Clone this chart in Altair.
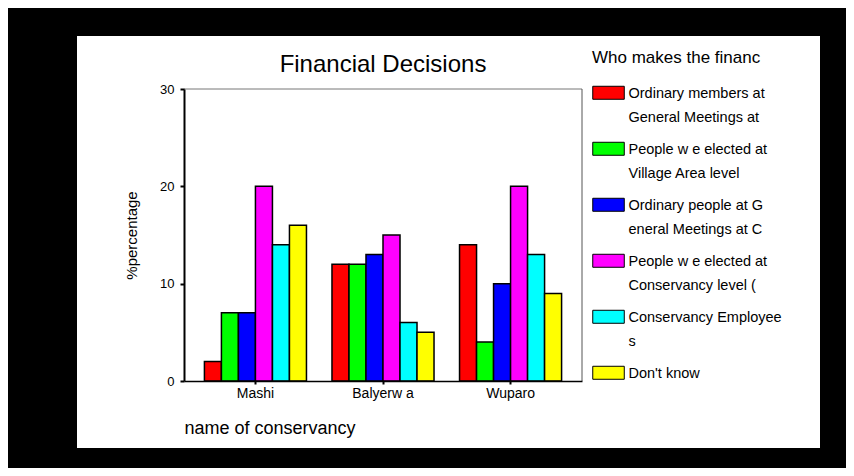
import altair as alt
import pandas as pd

conservancies = ["Mashi", "Balyerw a", "Wuparo"]
who = [
    "Ordinary members at\nGeneral Meetings at",
    "People w e elected at\n Village Area level",
    "Ordinary people at G\neneral Meetings at C",
    "People w e elected at\n Conservancy level (",
    "Conservancy Employee\ns",
    "Don't know",
]
colors = ["#ff0000", "#00ff00", "#0000ff", "#ff00ff", "#00ffff", "#ffff00"]
mashi = [2, 7, 7, 20, 14, 16]
balyerwa = [12, 12, 13, 15, 6, 5]
wuparo = [14, 4, 10, 20, 13, 9]

rows = []
for c, vals in zip(conservancies, [mashi, balyerwa, wuparo]):
    for w, v in zip(who, vals):
        rows.append({"conservancy": c, "who": w, "pct": v})
df = pd.DataFrame(rows)

FONT = "Liberation Sans"

panel = alt.Chart(alt.Data(values=[{"p": 1}])).mark_rect(color="white").encode(
    x=alt.value(-107), x2=alt.value(636), y=alt.value(-53), y2=alt.value(359)
)

bars = alt.Chart(df).mark_bar(stroke="black", strokeWidth=1.5, opacity=1).encode(
    x=alt.X(
        "conservancy:N",
        sort=conservancies,
        scale=alt.Scale(paddingInner=0.2, paddingOuter=0.16),
        axis=alt.Axis(
            title="name of conservancy",
            titleAnchor="start",
            titleAlign="left",
            titleFontSize=18,
            titlePadding=19,
            labelAngle=0,
            labelFontSize=14,
            labelPadding=2,
            tickSize=3,
            tickWidth=2,
            domainWidth=1.5,
            zindex=1,
        ),
    ),
    xOffset=alt.XOffset("who:N", sort=who, scale=alt.Scale(paddingInner=0, paddingOuter=0)),
    y=alt.Y(
        "pct:Q",
        scale=alt.Scale(domain=[0, 30], nice=False),
        axis=alt.Axis(
            title="%percentage",
            values=[0, 10, 20, 30],
            grid=False,
            titleFontSize=15,
            titlePadding=20,
            labelFontSize=13,
            labelPadding=6,
            tickSize=4,
            tickWidth=2,
            domainWidth=2,
            zindex=1,
        ),
    ),
    color=alt.Color(
        "who:N",
        sort=who,
        scale=alt.Scale(domain=who, range=colors),
        legend=alt.Legend(
            title="Who makes the financ",
            orient="none",
            legendX=408,
            legendY=-39,
            padding=0,
            titleFontSize=17,
            titleFontWeight="normal",
            titleColor="black",
            titlePadding=13,
            labelFontSize=14.5,
            labelColor="black",
            labelExpr="split(datum.label, '\\n')",
            labelBaseline="top",
            labelLimit=400,
            labelOffset=22,
            symbolType="M-1,-0.15H3.85V1.85H-1Z",
            symbolSize=169,
            symbolStrokeColor="black",
            symbolStrokeWidth=1,
            symbolOpacity=1,
            rowPadding=11,
            zindex=1,
        ),
    ),
)

top_rule = alt.Chart(alt.Data(values=[{"p": 1}])).mark_rule(color="#777777", strokeWidth=1).encode(
    x=alt.value(0), x2=alt.value("width"), y=alt.value(0)
)
right_rule = alt.Chart(alt.Data(values=[{"p": 1}])).mark_rule(color="#555555", strokeWidth=1).encode(
    x=alt.value("width"), y=alt.value(0), y2=alt.value("height")
)

chart = (
    alt.layer(panel, bars, top_rule, right_rule)
    .properties(
        width=398,
        height=292,
        background="black",
        padding={"left": 69, "top": 28, "right": 26, "bottom": 20},
        title=alt.Title(
            "Financial Decisions",
            fontSize=24,
            fontWeight="normal",
            color="black",
            anchor="middle",
            frame="group",
            offset=-41,
            zindex=1,
        ),
    )
    .configure(font=FONT, style={"guide-label": {"lineHeight": 24}})
    .configure_view(stroke=None)
    .configure_axis(
        domainColor="black",
        tickColor="black",
        labelColor="black",
        titleColor="black",
        titleFontWeight="normal",
        labelFont=FONT,
        titleFont=FONT,
    )
    .configure_legend(labelFont=FONT, titleFont=FONT)
)

chart.save("out.html", embed_options={"renderer": "svg", "actions": False})
